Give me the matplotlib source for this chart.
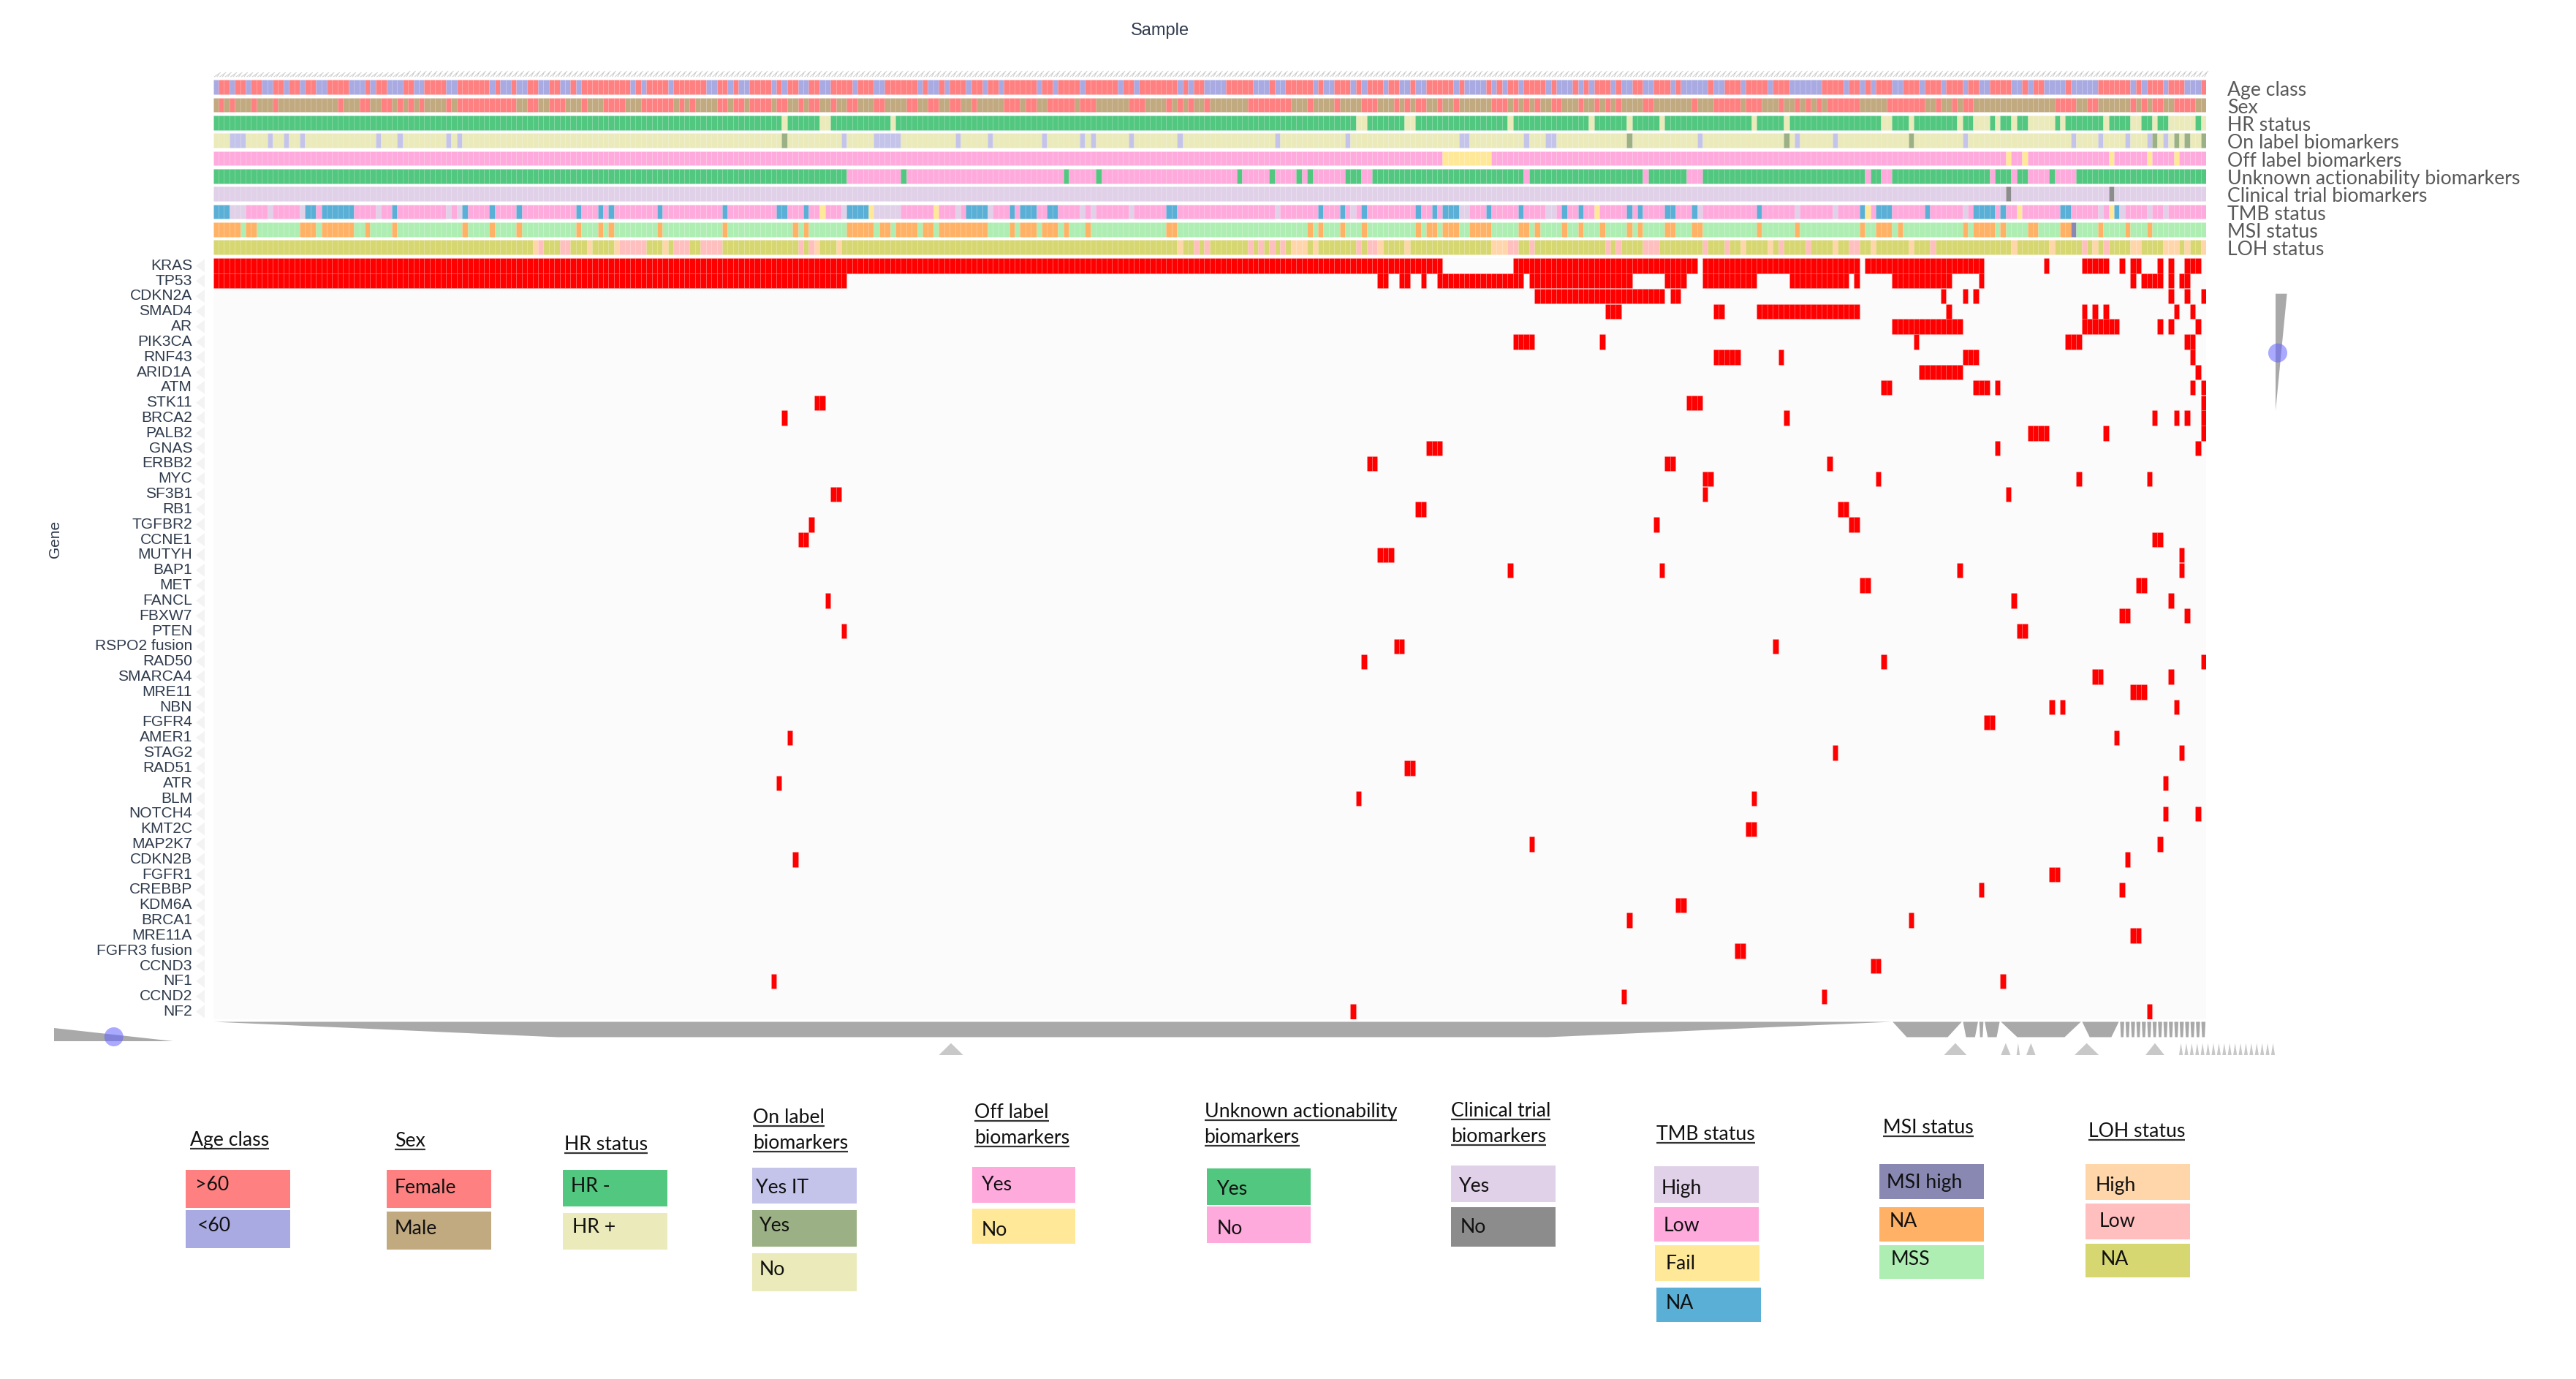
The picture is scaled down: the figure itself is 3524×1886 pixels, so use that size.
import numpy as np
import matplotlib
matplotlib.use("Agg")
import matplotlib.pyplot as plt
from matplotlib.patches import Polygon, Ellipse, Rectangle
from matplotlib.collections import LineCollection
from matplotlib.transforms import ScaledTranslation

# ---------- DATA ----------
n_samples = 368
genes = ["KRAS","TP53","CDKN2A","SMAD4","AR","PIK3CA","RNF43","ARID1A","ATM","STK11","BRCA2","PALB2","GNAS","ERBB2","MYC",
         "SF3B1","RB1","TGFBR2","CCNE1","MUTYH","BAP1","MET","FANCL","FBXW7","PTEN","RSPO2 fusion","RAD50","SMARCA4","MRE11",
         "NBN","FGFR4","AMER1","STAG2","RAD51","ATR","BLM","NOTCH4","KMT2C","MAP2K7","CDKN2B","FGFR1","CREBBP","KDM6A","BRCA1",
         "MRE11A","FGFR3 fusion","CCND3","NF1","CCND2","NF2"]
track_names = ["Age class","Sex","HR status","On label biomarkers","Off label biomarkers","Unknown actionability biomarkers",
               "Clinical trial biomarkers","TMB status","MSI status","LOH status"]

# runs are (first sample, number of samples)
age_lt60 = [(0,1),(3,1),(6,1),(9,2),(13,1),(16,1),(19,2),(25,3),(29,1),(32,3),(37,2),(43,2),(51,1),(53,2),(56,2),(60,2),(64,2),(67,1),
            (77,1),(79,1),(84,1),(91,2),(95,1),(97,2),(103,1),(105,1),(108,2),(112,2),(118,1),(122,2),(130,1),(132,2),(135,1),(139,1),
            (142,1),(145,1),(152,1),(155,1),(160,1),(167,1),(170,1),(178,1),(180,1),(183,4),(192,3),(196,2),(203,1),(205,2),(210,1),
            (212,1),(216,1),(219,2),(222,2),(229,1),(231,4),(236,1),(238,1),(241,1),(246,1),(248,3),(252,1),(254,1),(258,1),(260,2),
            (264,2),(269,1),(271,5),(277,2),(282,1),(287,1),(291,6),(301,1),(304,1),(306,1),(310,2),(315,1),(319,1),(323,1),(326,2),
            (332,2),(335,1),(338,4),(343,5),(354,1),(356,1),(360,1),(364,3)]
sex_male = [(0,1),(2,1),(4,3),(8,3),(12,11),(24,3),(29,2),(33,1),(35,1),(37,1),(39,4),(44,1),(56,2),(60,2),(65,3),(69,3),(76,3),(85,1),
            (87,1),(89,4),(95,1),(98,1),(103,1),(106,2),(109,1),(112,2),(115,2),(119,3),(124,4),(130,2),(134,2),(138,2),(141,5),(149,1),
            (152,2),(159,1),(163,6),(172,4),(177,1),(179,1),(181,2),(184,7),(199,3),(203,4),(208,4),(215,3),(219,1),(221,1),(224,2),
            (227,2),(230,6),(239,1),(241,1),(243,1),(245,2),(249,3),(253,2),(256,1),(258,1),(260,4),(266,7),(274,3),(282,1),(286,1),
            (287,2),(290,2),(293,1),(295,1),(297,1),(304,4),(308,1),(316,2),(319,2),(322,1),(325,15),(344,2),(348,3),(351,3),(355,1),
            (357,1),(360,2),(366,2)]
hr_plus = [(105,1),(112,2),(125,1),(211,2),(220,2),(239,1),(254,1),(261,1),(267,1),(284,1),(290,1),(308,2),(313,1),(322,1),(325,3),
           (329,1),(332,1),(335,5),(341,1),(349,1),(354,2),(358,1),(361,5),(367,1)]
on_label_yes_it = [(3,3),(10,1),(13,1),(16,1),(30,1),(34,1),(43,1),(45,1),(116,1),(122,5),(137,1),(143,1),(153,1),(160,1),(162,1),(169,1),
                   (178,1),(196,1),(209,1),(230,2),(242,1),(246,2),(274,1),(292,1),(299,1),(323,1),(343,1),(348,1),(353,1),(357,1),(360,1)]
on_label_yes = [(105,1),(261,1),(290,1),(313,1),(358,1),(362,1),(364,1),(367,1)]
off_label_no = [(227,9),(331,1),(334,1),(350,1),(357,1),(362,1)]
unknown_yes = [(0,117),(127,1),(157,1),(163,1),(189,1),(195,1),(200,1),(202,1),(209,3),(214,28),(243,21),(265,7),(275,30),(306,2),(310,18),
               (329,3),(333,2),(339,1),(344,24)]
clinical_no = [(331,1),(350,1)]
tmb_high = [(3,3),(10,1),(16,1),(30,1),(43,1),(45,1),(116,1),(122,5),(137,1),(143,1),(160,1),(162,1),(169,1),(196,1),(210,1),(230,2),(246,2),
            (274,1),(292,1),(299,1),(323,1),(348,1),(352,1),(357,1),(360,1)]
tmb_fail = [(112,1),(121,1),(133,1),(255,1),(305,1),(333,1),(350,1)]
tmb_na = [(0,3),(17,2),(20,6),(33,1),(46,1),(51,1),(56,1),(67,1),(71,1),(73,1),(82,1),(94,1),(104,2),(109,1),(117,4),(139,4),(147,1),(149,3),
          (154,2),(176,2),(204,1),(208,1),(212,1),(222,1),(225,1),(227,3),(235,1),(241,1),(249,1),(252,1),(261,1),(263,1),(268,2),(273,1),
          (285,1),(304,1),(307,3),(316,1),(325,4),(330,1),(341,2),(351,1)]
msi_high = [(343,1)]
msi_na = [(0,5),(6,2),(16,3),(20,6),(28,1),(33,1),(46,1),(51,1),(56,1),(67,1),(71,1),(73,1),(82,1),(94,1),(107,1),(109,1),(117,5),(123,2),(126,4),
          (131,2),(134,9),(147,1),(149,3),(153,3),(157,1),(161,1),(176,2),(202,1),(204,1),(208,1),(212,1),(222,1),(224,2),(227,3),(232,4),(241,2),
          (244,1),(249,1),(252,1),(256,1),(261,1),(263,1),(268,2),(273,2),(285,1),(292,1),(304,1),(307,3),(311,1),(323,1),(325,4),(330,1),(335,2),
          (341,2),(348,1),(353,1),(357,1)]
loh_high = [(59,1),(69,1),(74,1),(83,1),(111,1),(115,1),(178,1),(199,3),(203,1),(215,1),(220,1),(236,3),(282,1),(287,1),(299,1),(306,1),(313,1),
            (332,1),(339,1),(347,1),(354,2),(360,3),(364,1),(367,1)]
loh_low = [(60,1),(64,2),(75,5),(85,3),(90,4),(108,1),(110,1),(181,1),(183,1),(191,1),(193,1),(195,1),(197,1),(211,1),(213,2),(239,2),(243,1),
           (257,1),(259,1),(264,3),(275,1),(279,1),(289,1),(294,1),(302,2),(317,1),(345,1),(349,1)]

gene_runs = [
 [(0,227),(240,34),(275,29),(305,22),(338,1),(345,5),(352,1),(354,2),(359,1),(361,1),(364,3)],
 [(0,117),(215,2),(219,2),(223,1),(226,16),(243,19),(268,4),(275,10),(291,11),(303,1),(310,11),(326,1),(354,1),(356,4),(361,1),(363,2)],
 [(244,24),(269,2),(319,1),(323,1),(325,1),(361,1),(364,1),(367,1)],
 [(257,3),(277,2),(285,19),(320,1),(345,1),(347,1),(349,1),(362,1),(365,1)],
 [(310,13),(345,7),(359,1),(361,1),(366,1)],
 [(240,4),(256,1),(314,1),(342,3),(364,2)],
 [(277,5),(289,1),(323,3),(365,1)],
 [(315,8),(366,1)],
 [(308,2),(325,3),(329,1),(365,1),(367,1)],
 [(111,2),(272,3),(367,1)],
 [(105,1),(290,1),(358,1),(362,1),(364,1),(367,1)],
 [(335,4),(349,1),(367,1)],
 [(224,3),(329,1),(366,1)],
 [(213,2),(268,2),(298,1)],
 [(275,2),(307,1),(344,1),(357,1)],
 [(114,2),(275,1),(331,1)],
 [(222,2),(300,2)],
 [(110,1),(266,1),(302,2)],
 [(108,2),(358,2)],
 [(215,3),(363,1)],
 [(239,1),(267,1),(322,1),(363,1)],
 [(304,2),(355,2)],
 [(113,1),(332,1),(361,1)],
 [(352,2),(364,1)],
 [(116,1),(333,2)],
 [(218,2),(288,1)],
 [(212,1),(308,1),(367,1)],
 [(347,2),(361,1)],
 [(354,3)],
 [(339,1),(341,1),(362,1)],
 [(327,2)],
 [(106,1),(351,1)],
 [(299,1),(363,1)],
 [(220,2)],
 [(104,1),(360,1)],
 [(211,1),(284,1)],
 [(360,1),(366,1)],
 [(283,2)],
 [(243,1),(359,1)],
 [(107,1),(353,1)],
 [(339,2)],
 [(326,1),(352,1)],
 [(270,2)],
 [(261,1),(313,1)],
 [(354,2)],
 [(281,2)],
 [(306,2)],
 [(103,1),(330,1)],
 [(260,1),(297,1)],
 [(210,1),(357,1)],
]

# column groups shown under the matrix: (first sample, number of samples)
group_level1 = [(0,310),(310,13),(323,3),(326,1),(327,3),(330,15),(345,7)] + [(i,1) for i in range(352,368)]
group_level2 = [(134,4.5),(319.6,4.2),(330.1,1.8),(333,0.6),(334.8,1.7),(343.7,4.5),(356.8,3.5)] + [(i,0.7) for i in range(363,381)]

legend_titles = ["Age class","Sex","HR status","On label\nbiomarkers","Off label\nbiomarkers","Unknown actionability\nbiomarkers",
                 "Clinical trial\nbiomarkers","TMB status","MSI status","LOH status"]
age_labels, sex_labels, hr_labels = [">60","<60"], ["Female","Male"], ["HR -","HR +"]
on_labels, off_labels, unk_labels = ["Yes IT","Yes","No"], ["Yes","No"], ["Yes","No"]
clin_labels, tmb_labels = ["Yes","No"], ["High","Low","Fail","NA"]
msi_labels, loh_labels = ["MSI high","NA","MSS"], ["High","Low","NA"]
age_colors, sex_colors, hr_colors = ["#FF8080","#AAAAE3"], ["#FF8080","#C1A980"], ["#52C77F","#EAEABA"]
on_colors, off_colors, unk_colors = ["#C4C4EA","#9BB085","#EAEABA"], ["#FFAADD","#FFE898"], ["#52C77F","#FFAADD"]
clin_colors, tmb_colors = ["#E0D0E8","#8C8C8C"], ["#E0D0E8","#FFAADD","#FFE898","#5AAFD6"]
msi_colors, loh_colors = ["#8888B3","#FFB266","#AEEEB2"], ["#FFD6AA","#FFBFBF","#D7D772"]

# ---------- LAYOUT ----------
W, H = 3524, 1886
X0, X1 = 291.5, 3018.0
def axes_px(x0, y0, x1, y1, **kw):
    return fig.add_axes([x0/W, 1-y1/H, (x1-x0)/W, (y1-y0)/H], **kw)

fig = plt.figure(figsize=(W/100, H/100), dpi=100, facecolor="white")
UI_FONT = "Lato"
ARIAL = "Liberation Sans"
AXIS_INK = "#2f3b4c"
UI_SIZE = 19.2

def expand(base, *pairs):
    col = [base]*n_samples
    for runs, c in pairs:
        for s, l in runs:
            for i in range(s, min(s+l, n_samples)):
                col[i] = c
    return col

track_cols = [
    expand(age_colors[0], (age_lt60, age_colors[1])),
    expand(sex_colors[0], (sex_male, sex_colors[1])),
    expand(hr_colors[0], (hr_plus, hr_colors[1])),
    expand(on_colors[2], (on_label_yes_it, on_colors[0]), (on_label_yes, on_colors[1])),
    expand(off_colors[0], (off_label_no, off_colors[1])),
    expand(unk_colors[1], (unknown_yes, unk_colors[0])),
    expand(clin_colors[0], (clinical_no, clin_colors[1])),
    expand(tmb_colors[1], (tmb_high, tmb_colors[0]), (tmb_fail, tmb_colors[2]), (tmb_na, tmb_colors[3])),
    expand(msi_colors[2], (msi_high, msi_colors[0]), (msi_na, msi_colors[1])),
    expand(loh_colors[2], (loh_high, loh_colors[0]), (loh_low, loh_colors[1])),
]

# annotation tracks
ax_t = axes_px(X0, 109.3, X1, 109.3+243.3)
ax_t.set_xlim(0, n_samples); ax_t.set_ylim(10, 0); ax_t.axis("off")
cells = np.arange(n_samples)
for i, cols in enumerate(track_cols):
    ax_t.bar(cells+0.5, 0.81, bottom=i, width=1, color=cols, edgecolor=(1,1,1,0.05), linewidth=0.5)
# sample tick smudge
segs = []
for i in range(n_samples):
    top = -0.42 if i < 35 else -0.5
    segs.append([(i+0.2, -0.17), (i+1.4, top)])
    segs.append([(i+0.7, -0.17), (i+1.1, top+0.1)])
ax_t.add_collection(LineCollection(segs, colors=(0.6,0.6,0.6,0.45), linewidths=0.8, clip_on=False))

# gene matrix
ax_g = axes_px(X0, 353, X1, 1394)
ax_g.set_xlim(0, n_samples); ax_g.set_ylim(len(genes), 0); ax_g.set_facecolor("#FBFBFB")
for s in ax_g.spines.values():
    s.set_visible(False)
ax_g.set_xticks([])
ax_g.set_yticks(np.arange(len(genes))+0.5)
ax_g.set_yticklabels(genes, family=ARIAL, fontsize=15.1, color=AXIS_INK)
ax_g.tick_params(axis="y", length=0, pad=20.5)
lift = ScaledTranslation(0, 1.5/72, fig.dpi_scale_trans)
for lab in ax_g.get_yticklabels():
    lab.set_transform(lab.get_transform() + lift)
for r, runs in enumerate(gene_runs):
    xs = [i+0.5 for s, l in runs for i in range(s, s+l)]
    ax_g.bar(xs, 0.98, bottom=r+0.01, width=1, color="#FF0000", edgecolor=(1,1,1,0.12), linewidth=0.5)

# column groups
ax_d = axes_px(X0, 1397.5, X1, 1443)
ax_d.set_xlim(0, n_samples); ax_d.set_ylim(45.5/21, 0); ax_d.axis("off")
for s, l in group_level1:
    pad = 0.12
    inset = 0.205*l
    ax_d.add_patch(Polygon([(s+pad, 0), (s+l-pad, 0), (s+l-inset-pad/2, 1), (s+inset+pad/2, 1)],
                           closed=True, fc="#A9A9A9", ec="none", clip_on=False))
for s, l in group_level2:
    ax_d.add_patch(Polygon([(s, 45.5/21), (s+l, 45.5/21), (s+l/2, 1.39)], closed=True, fc="#C8C8C8", ec="none", clip_on=False))

# pixel overlay for text, legend and sliders
ov = axes_px(0, 0, W, H)
ov.set_xlim(0, W); ov.set_ylim(H, 0); ov.axis("off"); ov.patch.set_alpha(0)

# row pointers
for r in range(len(genes)):
    yc = 353 + (r+0.5)*20.82
    ov.add_patch(Polygon([(268, yc), (280, yc-9), (280, yc+9)], closed=True, fc="#F3F3F3", ec="none"))

ov.text(1587, 42, "Sample", family=ARIAL, fontsize=17, color=AXIS_INK, ha="center", va="center")
ov.text(75, 737, "Gene", family=ARIAL, fontsize=15, color=AXIS_INK, ha="center", va="center", rotation=90)

# track names
for i, name in enumerate(track_names):
    ov.text(3047, 123+24.3*i, name, family=UI_FONT, fontsize=UI_SIZE, color="#595959", ha="left", va="center")

# sliders
ov.add_patch(Polygon([(3113, 401.7), (3128.6, 401.7), (3113, 561.7)], closed=True, fc="#A9A9A9", ec="none"))
ov.add_patch(Ellipse((3116, 482.7), 26, 26, fc=(0.39,0.39,1,0.55), ec="none"))
ov.add_patch(Polygon([(74, 1405.6), (74, 1423.6), (237, 1423.6)], closed=True, fc="#A9A9A9", ec="none"))
ov.add_patch(Ellipse((155.7, 1418), 26, 26, fc=(0.39,0.39,1,0.55), ec="none"))

# legend
title_pos = [(259.5,[1571]),(540,[1572]),(771.5,[1577]),(1030,[1540,1575]),(1333,[1533,1568]),(1647.5,[1532,1567]),
             (1985,[1530.7,1566]),(2266,[1563]),(2576,[1554]),(2857,[1559])]
swatch_layout = [
  (age_labels, age_colors, [(254,397,1600,1652,267.5,1620),(254,397,1655,1707,270,1676)]),
  (sex_labels, sex_colors, [(529,672,1600,1652,539.6,1624),(529,672,1657,1709,540,1680)]),
  (hr_labels, hr_colors, [(770,913,1600,1650,781,1622),(770,913,1659,1709,783,1678)]),
  (on_labels, on_colors, [(1029,1172,1597,1646,1034,1624),(1029,1172,1655,1705,1039,1677),(1029,1172,1714,1766,1039,1736)]),
  (off_labels, off_colors, [(1329.5,1471,1596,1645,1343,1621),(1329.5,1471,1653,1701,1343,1682)]),
  (unk_labels, unk_colors, [(1651,1793,1598,1648,1665,1626),(1651,1793,1650,1700,1665,1681)]),
  (clin_labels, clin_colors, [(1985,2128,1594,1644,1996,1622),(1985,2128,1651,1705,1998,1678)]),
  (tmb_labels, tmb_colors, [(2263,2406,1595,1645,2273,1626),(2263,2406,1651,1698,2276,1677),(2264,2407,1703,1752,2279,1728),(2266,2409,1761,1808,2279,1782)]),
  (msi_labels, msi_colors, [(2571,2714,1592,1640,2581,1618),(2571,2714,1651,1698,2585,1670),(2571,2714,1703,1749,2587,1722)]),
  (loh_labels, loh_colors, [(2853,2996,1592,1641,2866.5,1621),(2853,2996,1646,1695,2872,1671),(2853,2996,1701,1747,2874,1722)]),
]
for labels, colors, geo in swatch_layout:
    for lab, c, (x0, x1, y0, y1, tx, ty) in zip(labels, colors, geo):
        ov.add_patch(Rectangle((x0, y0), x1-x0, y1-y0, fc=c, ec="none"))
        ov.text(tx, ty, lab, family=UI_FONT, fontsize=UI_SIZE, color="#111111", ha="left", va="center")

fig.canvas.draw()
rend = fig.canvas.get_renderer()
for title, (tx, uys) in zip(legend_titles, title_pos):
    for line, uy in zip(title.split("\n"), uys):
        t = ov.text(tx, uy-4, line, family=UI_FONT, fontsize=UI_SIZE, color="#111111", ha="left", va="baseline")
        bb = t.get_window_extent(rend)
        ov.plot([bb.x0, bb.x1], [uy, uy], color="#333333", lw=1.6, solid_capstyle="butt")
ov.set_xlim(0, W); ov.set_ylim(H, 0)

fig.savefig("out.png", dpi=100, facecolor="white")
